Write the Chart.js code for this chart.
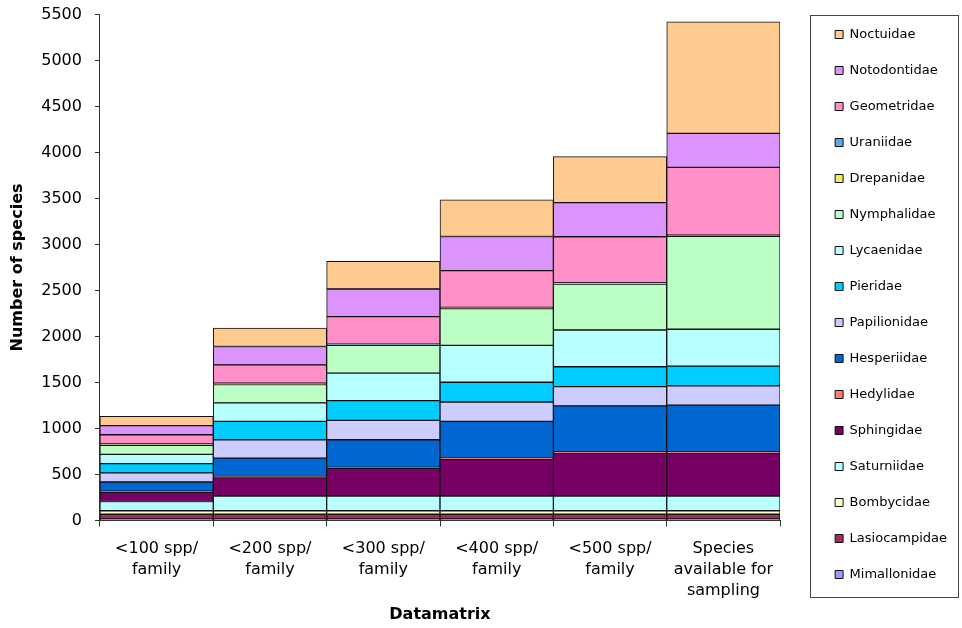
<!DOCTYPE html>
<html lang="en">
<head>
<meta charset="UTF-8">
<title>Species per datamatrix</title>
<script src="https://cdn.jsdelivr.net/npm/chart.js"></script>
<style>
  body { margin: 0; background: #fff; }
</style>
</head>
<body>
<canvas id="myChart" width="962" height="628"></canvas>
<script>
// categories (x axis)
const categories = [
  ['<100 spp/', 'family'],
  ['<200 spp/', 'family'],
  ['<300 spp/', 'family'],
  ['<400 spp/', 'family'],
  ['<500 spp/', 'family'],
  ['Species', 'available for', 'sampling']
];

// species per family (bottom of stack first)
const mimallonidae  = [15, 15, 15, 15, 15, 15];
const lasiocampidae = [52, 52, 52, 52, 52, 52];
const bombycidae    = [38, 38, 38, 38, 38, 38];
const saturniidae   = [100, 160, 160, 160, 160, 160];
const sphingidae    = [100, 200, 300, 400, 468, 468];
const hedylidae     = [12, 12, 12, 12, 12, 12];
const hesperiidae   = [100, 200, 300, 400, 500, 508];
const papilionidae  = [100, 200, 210, 210, 210, 210];
const pieridae      = [100, 200, 215, 215, 215, 215];
const lycaenidae    = [100, 200, 300, 400, 400, 400];
const nymphalidae   = [100, 200, 300, 400, 500, 1010];
const drepanidae    = [8, 8, 8, 8, 8, 8];
const uraniidae     = [6, 6, 6, 6, 6, 6];
const geometridae   = [100, 200, 300, 400, 500, 736];
const notodontidae  = [100, 200, 300, 370, 370, 370];
const noctuidae     = [100, 200, 300, 400, 500, 1213];

const yTicks = [0, 500, 1000, 1500, 2000, 2500, 3000, 3500, 4000, 4500, 5000, 5500];

const FONT = "'DejaVu Sans', Verdana, sans-serif";

function ds(label, data, color) {
  return {
    label: label,
    data: data,
    backgroundColor: color,
    borderColor: '#111',
    borderWidth: 1,
    borderSkipped: false
  };
}

// draws the frame round the legend
const legendFrame = {
  id: 'legendFrame',
  afterDraw(chart) {
    const l = chart.legend;
    const ctx = chart.ctx;
    ctx.save();
    ctx.strokeStyle = '#444';
    ctx.lineWidth = 1;
    const x0 = Math.round(l.left - 2) + 0.5;
    const x1 = chart.width - 4 + 0.5;
    ctx.strokeRect(x0, 15.5, x1 - x0, 582);
    ctx.restore();
  }
};

const ctx = document.getElementById('myChart').getContext('2d');
new Chart(ctx, {
  type: 'bar',
  data: {
    labels: categories,
    datasets: [
      ds('Mimallonidae', mimallonidae, '#9999FF'),
      ds('Lasiocampidae', lasiocampidae, '#A52A5E'),
      ds('Bombycidae', bombycidae, '#FFFFCC'),
      ds('Saturniidae', saturniidae, '#B8FFFF'),
      ds('Sphingidae', sphingidae, '#760064'),
      ds('Hedylidae', hedylidae, '#FF7C70'),
      ds('Hesperiidae', hesperiidae, '#0066D0'),
      ds('Papilionidae', papilionidae, '#CCCCFF'),
      ds('Pieridae', pieridae, '#00CCFF'),
      ds('Lycaenidae', lycaenidae, '#B8FFFF'),
      ds('Nymphalidae', nymphalidae, '#BBFFC4'),
      ds('Drepanidae', drepanidae, '#F2E866'),
      ds('Uraniidae', uraniidae, '#5AA9E6'),
      ds('Geometridae', geometridae, '#FF90C8'),
      ds('Notodontidae', notodontidae, '#DA94FC'),
      ds('Noctuidae', noctuidae, '#FFCA90')
    ]
  },
  options: {
    responsive: false,
    animation: false,
    devicePixelRatio: 1,
    barPercentage: 1,
    categoryPercentage: 1,
    layout: { padding: { top: 5, left: 4, right: 5, bottom: 0 } },
    plugins: {
      tooltip: { enabled: false },
      legend: {
        position: 'right',
        align: 'start',
        reverse: true,
        labels: {
          color: '#000',
          font: { family: FONT, size: 13 },
          boxWidth: 8,
          boxHeight: 8,
          padding: 23
        }
      }
    },
    scales: {
      x: {
        stacked: true,
        grid: { display: true, drawOnChartArea: false, tickLength: 6, color: '#333' },
        border: { display: true, color: '#333' },
        ticks: {
          color: '#000',
          padding: 12,
          maxRotation: 0,
          autoSkip: false,
          font: { family: FONT, size: 16, lineHeight: 1.3 }
        },
        title: {
          display: true,
          text: 'Datamatrix',
          color: '#000',
          padding: { top: -8, bottom: 4 },
          font: { family: FONT, size: 16, weight: 'bold' }
        }
      },
      y: {
        stacked: true,
        min: 0,
        max: 5500,
        afterBuildTicks(scale) {
          scale.ticks = yTicks.map(v => ({ value: v }));
        },
        afterFit(scale) {
          scale.paddingTop = 14.5;
        },
        grid: { display: true, drawOnChartArea: false, tickLength: 5, color: '#333' },
        border: { display: true, color: '#333' },
        ticks: {
          color: '#000',
          padding: 13,
          font: { family: FONT, size: 16 },
          callback: value => String(value)
        },
        title: {
          display: true,
          text: 'Number of species',
          color: '#000',
          padding: { top: 4, bottom: 1 },
          font: { family: FONT, size: 16, weight: 'bold' }
        }
      },
      // empty scale to keep the gap between the bars and the legend
      yGap: {
        type: 'linear',
        position: 'right',
        display: true,
        grid: { display: false },
        border: { display: false },
        ticks: { display: false },
        afterFit(scale) { scale.width = 32; }
      }
    }
  },
  plugins: [legendFrame]
});
</script>
</body>
</html>
